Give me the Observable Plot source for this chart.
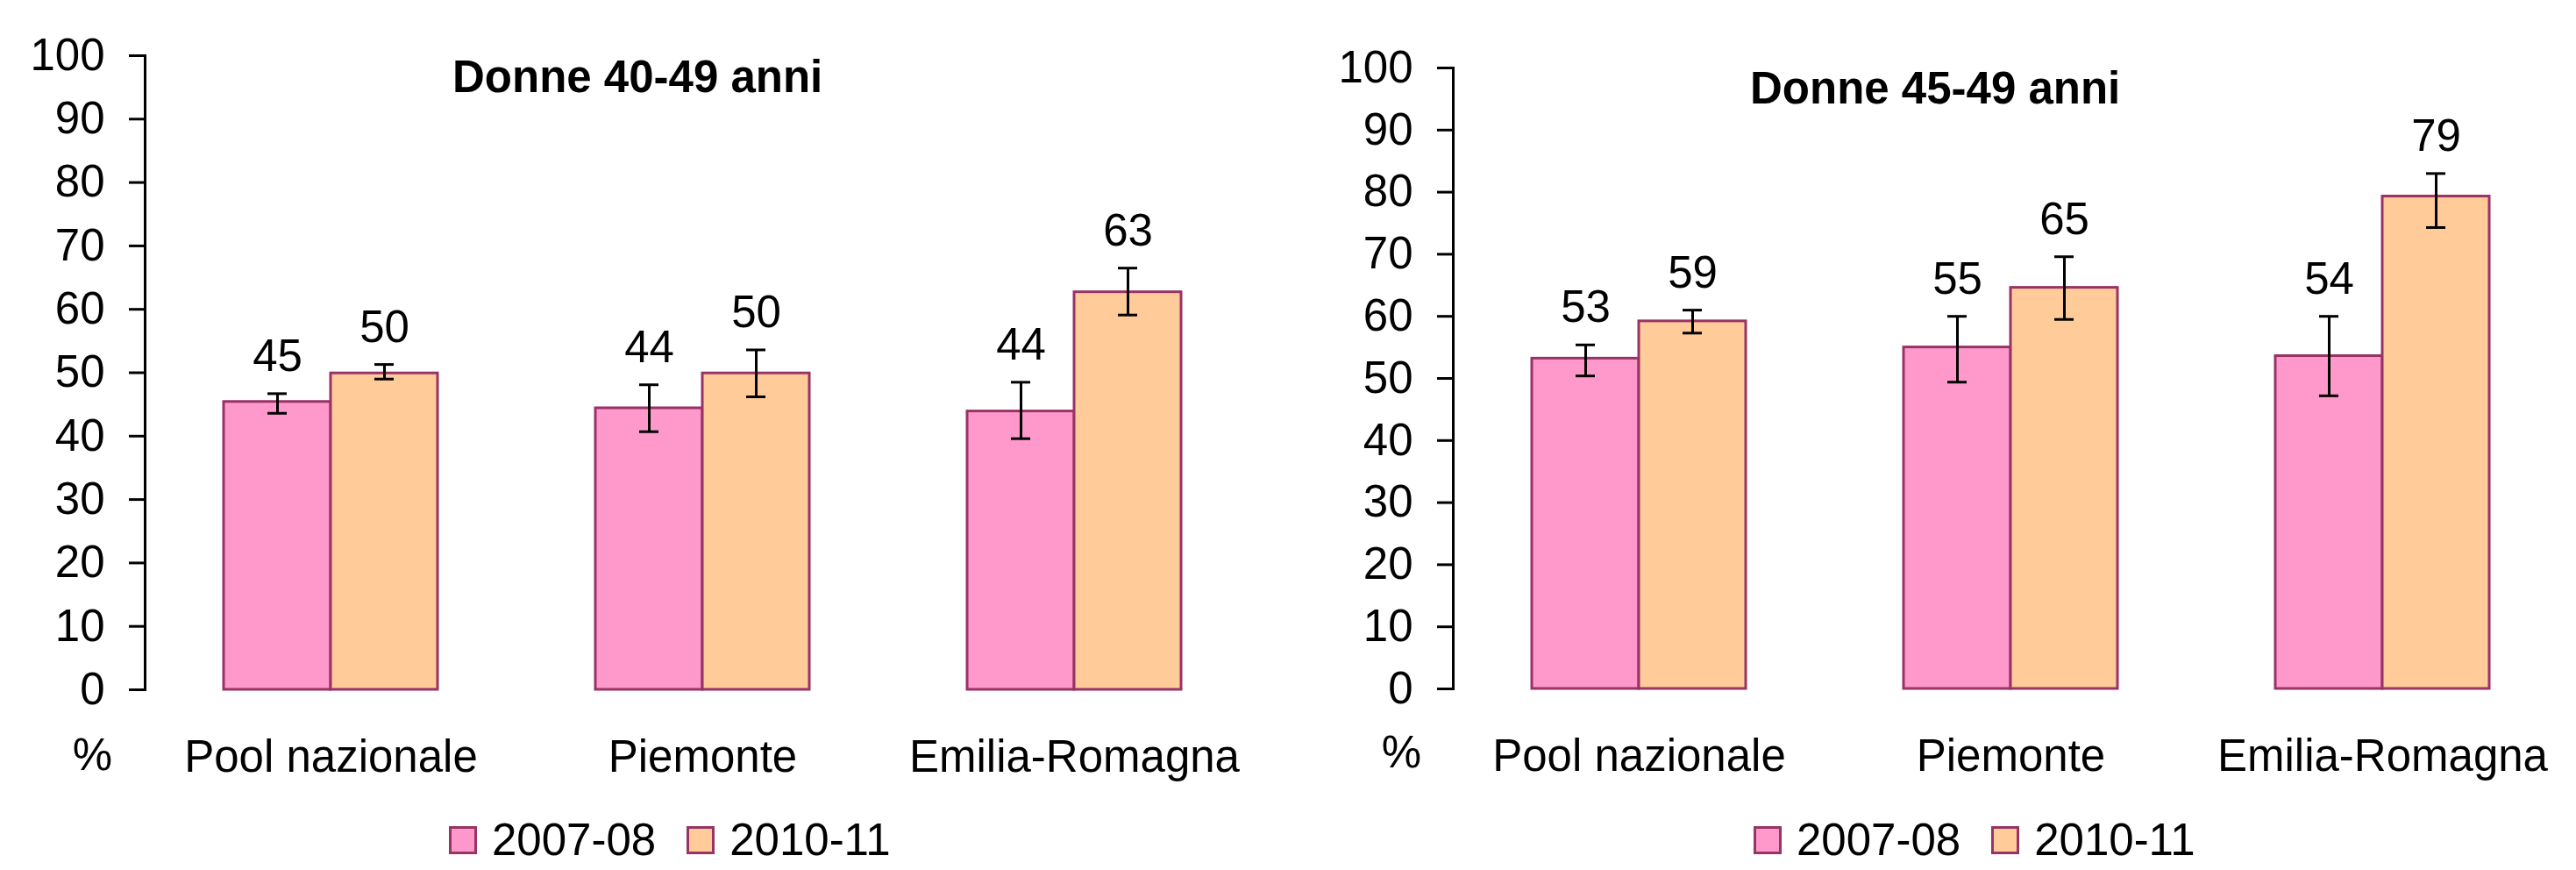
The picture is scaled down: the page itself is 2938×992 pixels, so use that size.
<!DOCTYPE html>
<html><head><meta charset="utf-8">
<script src="https://cdn.jsdelivr.net/npm/d3@7"></script>
<script src="https://cdn.jsdelivr.net/npm/@observablehq/plot@0.6"></script>
<style>
body{margin:0;background:#fff;font-family:"Liberation Sans",Arial,sans-serif;color:#000}
#wrap{display:flex;width:2938px;height:992px;overflow:hidden}
.chart{position:relative;width:1469px;height:992px;flex:none}
.chart svg{position:absolute;left:0;top:0}
.title{position:absolute;font-weight:bold;font-size:51px;line-height:51px;white-space:nowrap}
.pct{position:absolute;left:0;font-size:51px;line-height:51px;text-align:right}
.legend{position:absolute;display:flex;align-items:flex-start;font-size:51px;line-height:51px;white-space:nowrap}
.item{display:flex;align-items:flex-start;margin-right:35px}
.sw{width:26px;height:26px;border:3px solid #993366;margin-top:10px;margin-right:17px;flex:none}
</style></head>
<body><div id="wrap"></div>
<script>
const regions = ["Pool nazionale", "Piemonte", "Emilia-Romagna"];
const periods = ["2007-08", "2010-11"];
const colors = ["#FF99CC", "#FFCC99"];
const yTicks = [0, 10, 20, 30, 40, 50, 60, 70, 80, 90, 100];
const titles = ["Donne 40-49 anni", "Donne 45-49 anni"];
const unitLabel = "%";

// Donne 40-49 anni
const a_0708 = [45.4, 44.4, 43.9];
const a_0708_lo = [43.6, 40.7, 39.6];
const a_0708_hi = [46.7, 48.1, 48.5];
const a_1011 = [49.9, 49.9, 62.7];
const a_1011_lo = [49.0, 46.2, 59.1];
const a_1011_hi = [51.3, 53.6, 66.5];

// Donne 45-49 anni
const b_0708 = [53.2, 55.0, 53.6];
const b_0708_lo = [50.4, 49.4, 47.2];
const b_0708_hi = [55.4, 60.0, 60.0];
const b_1011 = [59.2, 64.6, 79.3];
const b_1011_lo = [57.3, 59.5, 74.3];
const b_1011_hi = [61.0, 69.6, 83.0];

function table(v0, lo0, hi0, v1, lo1, hi1) {
  const out = [];
  regions.forEach((r, i) => {
    out.push({region: r, period: periods[0], value: v0[i], lo: lo0[i], hi: hi0[i]});
    out.push({region: r, period: periods[1], value: v1[i], lo: lo1[i], hi: hi1[i]});
  });
  return out;
}

const H = 930;
const charts = [
  {data: table(a_0708, a_0708_lo, a_0708_hi, a_1011, a_1011_lo, a_1011_hi), ml: 165, mr: 32, mt: 63, y0: 786,
   titleLeft: 516, titleTop: 62, pctW: 128, pctTop: 835, legLeft: 512},
  {data: table(b_0708, b_0708_lo, b_0708_hi, b_1011, b_1011_lo, b_1011_hi), ml: 188, mr: 9, mt: 77, y0: 785,
   titleLeft: 527, titleTop: 75, pctW: 152, pctTop: 832, legLeft: 531}
];

const wrap = document.getElementById("wrap");
charts.forEach((c, k) => {
  const div = document.createElement("div");
  div.className = "chart";
  const svg = Plot.plot({
    width: 1469, height: H,
    marginLeft: c.ml, marginRight: c.mr, marginTop: c.mt, marginBottom: H - c.y0,
    style: {fontFamily: "'Liberation Sans', Arial, sans-serif", fontSize: "51px", color: "#000", background: "transparent", overflow: "visible"},
    fx: {domain: regions, paddingInner: 0, paddingOuter: 0, label: null},
    x: {domain: periods, paddingInner: 0, paddingOuter: 0.7236, axis: null},
    y: {domain: [0, 100], label: null},
    color: {domain: periods, range: colors},
    marks: [
      Plot.frame({anchor: "left", facetAnchor: "left", stroke: "#000", strokeWidth: 3}),
      Plot.barY(c.data, {fx: "region", x: "period", y: "value", fill: "period", stroke: "#993366", strokeWidth: 3}),
      Plot.ruleX(c.data, {fx: "region", x: "period", y1: "lo", y2: "hi", stroke: "#000", strokeWidth: 3}),
      Plot.tickY(c.data, {fx: "region", x: "period", y: "lo", stroke: "#000", strokeWidth: 3, insetLeft: 50, insetRight: 50}),
      Plot.tickY(c.data, {fx: "region", x: "period", y: "hi", stroke: "#000", strokeWidth: 3, insetLeft: 50, insetRight: 50}),
      Plot.text(c.data, {fx: "region", x: "period", y: "hi", text: d => String(Math.round(d.value)), lineAnchor: "bottom", dy: -26, fontSize: 51, fill: "#000"}),
      Plot.axisY({ticks: yTicks, tickSize: 18, tickPadding: 28, strokeWidth: 3, label: null, fontSize: 51}),
      Plot.axisFx({anchor: "bottom", tickSize: 0, tickPadding: 57, label: null, fontSize: 51})
    ]
  });
  div.appendChild(svg);

  const t = document.createElement("div");
  t.className = "title";
  t.style.left = c.titleLeft + "px";
  t.style.top = c.titleTop + "px";
  t.textContent = titles[k];
  div.appendChild(t);

  const p = document.createElement("div");
  p.className = "pct";
  p.style.width = c.pctW + "px";
  p.style.top = c.pctTop + "px";
  p.textContent = unitLabel;
  div.appendChild(p);

  const leg = document.createElement("div");
  leg.className = "legend";
  leg.style.left = c.legLeft + "px";
  leg.style.top = "932px";
  periods.forEach((per, j) => {
    const it = document.createElement("div");
    it.className = "item";
    const sw = document.createElement("div");
    sw.className = "sw";
    sw.style.background = colors[j];
    const tx = document.createElement("span");
    tx.textContent = per;
    it.appendChild(sw);
    it.appendChild(tx);
    leg.appendChild(it);
  });
  div.appendChild(leg);
  wrap.appendChild(div);
});
</script>
</body></html>
